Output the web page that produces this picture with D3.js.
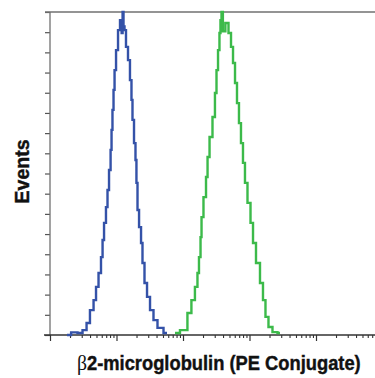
<!DOCTYPE html>
<html>
<head>
<meta charset="utf-8">
<script src="https://cdn.jsdelivr.net/npm/d3@7"></script>
<style>
	html, body { margin: 0; padding: 0; background: #fff; }
	svg { display: block; }
	.label { font-family: "Liberation Sans", Arial, sans-serif; font-weight: bold; fill: #111; stroke: #111; stroke-width: 0.4px; }
</style>
</head>
<body>
<script>
// isotype control (blue) - fluorescence intensity vs % of max events
var blueIntensity = [1.8, 2.4, 2.8, 3.4, 3.7, 4.3, 4.75, 5.1, 5.65, 6.05, 6.3, 6.7, 7.2, 7.45, 8.0, 8.3, 8.55, 8.85, 9.2, 9.5, 10.2, 10.9, 11.7, 12.2, 12.5, 13.0, 13.4, 14.4, 15.4, 16.5, 17.1, 17.7, 19.0, 19.6, 20.3, 21.1, 22.6, 24.2, 25.0, 27.8, 29.8, 34.2, 37.9, 45.1, 57.5];
var blueEvents    = [0, 0.8, 0.6, 1.5, 3.7, 7.7, 10.8, 14.9, 19.2, 24.1, 29.4, 34.7, 39.6, 44.9, 51.1, 57.3, 63.5, 69.7, 75.9, 82.0, 88.2, 94.4, 97.5, 93.5, 100, 95.5, 94.4, 89.2, 85.1, 78.9, 72.8, 66.6, 59.4, 54.2, 47.1, 38.7, 33.4, 28.5, 22.3, 16.1, 11.8, 7.7, 4.6, 2.2, 0.6];

// b2-microglobulin PE (green)
var greenIntensity = [75.8, 107, 127, 141, 162, 168, 180, 187, 193, 214, 230, 238, 264, 292, 313, 325, 348, 359, 373, 386, 410, 459, 509, 546, 585, 627, 671, 719, 771, 826, 885, 983, 1091, 1169, 1342, 1541, 1651, 1832, 2032, 2417, 2875];
var greenEvents    = [0.6, 1.5, 6.8, 10.8, 14.9, 19.2, 24.1, 30.3, 36.5, 42.7, 48.9, 55.1, 61.3, 67.5, 74.9, 82.0, 88.2, 93.5, 97.5, 100, 94.0, 96.6, 93.5, 89.2, 84.2, 78.0, 71.8, 65.6, 59.4, 53.3, 47.1, 40.9, 34.7, 28.5, 22.3, 16.1, 10.8, 5.6, 2.5, 0.9, 0.6];

var yTickValues = d3.range(0, 100.01, 6.25);
var xDecades = [1, 10, 100, 1000, 10000, 100000];

var width = 375, height = 378;
var plotLeft = 50, plotTop = 12, plotBottom = 335, plotRight = 375;

var svg = d3.select('body').append('svg')
	.attr('width', width)
	.attr('height', height);

var x = d3.scaleLog().domain([1, 1e5]).range([plotLeft, 382.5]);
var y = d3.scaleLinear().domain([0, 100]).range([plotBottom, plotTop]);

// minor ticks 2..9 inside each decade
var minorTicks = [];
xDecades.forEach(function (d) {
	for (var k = 2; k <= 9; k++) minorTicks.push(d * k);
});

// x axis - major ticks
var xAxisEl = svg.append('g')
	.attr('transform', 'translate(0,' + plotBottom + ')')
	.call(d3.axisBottom(x).tickValues(xDecades).tickSize(6).tickFormat(''));
xAxisEl.select('.domain').remove();
xAxisEl.selectAll('line').attr('stroke', '#333').attr('stroke-width', 1.2);

// x axis - minor ticks
var xMinorEl = svg.append('g')
	.attr('transform', 'translate(0,' + plotBottom + ')')
	.call(d3.axisBottom(x).tickValues(minorTicks).tickSize(3).tickFormat(''));
xMinorEl.select('.domain').remove();
xMinorEl.selectAll('line').attr('stroke', '#333').attr('stroke-width', 1.1);

// y axis ticks
var yAxisEl = svg.append('g')
	.attr('transform', 'translate(' + plotLeft + ',0)')
	.call(d3.axisLeft(y).tickValues(yTickValues).tickSize(5).tickFormat(''));
yAxisEl.select('.domain').remove();
yAxisEl.selectAll('line').attr('stroke', '#555').attr('stroke-width', 1.2);

// frame lines
svg.append('line').attr('x1', 45).attr('x2', plotRight).attr('y1', plotTop).attr('y2', plotTop)
	.attr('stroke', '#707070').attr('stroke-width', 1.5);
svg.append('line').attr('x1', plotLeft).attr('x2', plotLeft).attr('y1', plotTop).attr('y2', plotBottom)
	.attr('stroke', '#707070').attr('stroke-width', 1.3);
svg.append('line').attr('x1', 44).attr('x2', plotRight).attr('y1', plotBottom).attr('y2', plotBottom)
	.attr('stroke', '#333').attr('stroke-width', 1.4);

// histograms
var line = d3.line()
	.x(function (d) { return x(d[0]); })
	.y(function (d) { return y(d[1]); })
	.curve(d3.curveStep);

svg.append('path')
	.datum(d3.zip(blueIntensity, blueEvents))
	.attr('d', line)
	.attr('fill', 'none')
	.attr('stroke', '#3452a8')
	.attr('stroke-width', 2.4);

svg.append('path')
	.datum(d3.zip(greenIntensity, greenEvents))
	.attr('d', line)
	.attr('fill', 'none')
	.attr('stroke', '#3cba4a')
	.attr('stroke-width', 2.4);

// axis titles
svg.append('text')
	.attr('class', 'label')
	.attr('transform', 'translate(29,171.5) rotate(-90)')
	.attr('text-anchor', 'middle')
	.attr('font-size', '19.5px')
	.text('Events');

// condensed look: squeeze horizontally instead of textLength
var xTitle = svg.append('text')
	.attr('class', 'label')
	.attr('transform', 'translate(77,370) scale(0.94,1)')
	.attr('font-size', '19.5px');
xTitle.append('tspan')
	.attr('font-family', '"Liberation Serif", "Times New Roman", serif')
	.attr('font-weight', 'normal')
	.attr('stroke-width', 0)
	.attr('font-size', '21px')
	.text('β');
xTitle.append('tspan').text('2-microglobulin (PE Conjugate)');
</script>
</body>
</html>
